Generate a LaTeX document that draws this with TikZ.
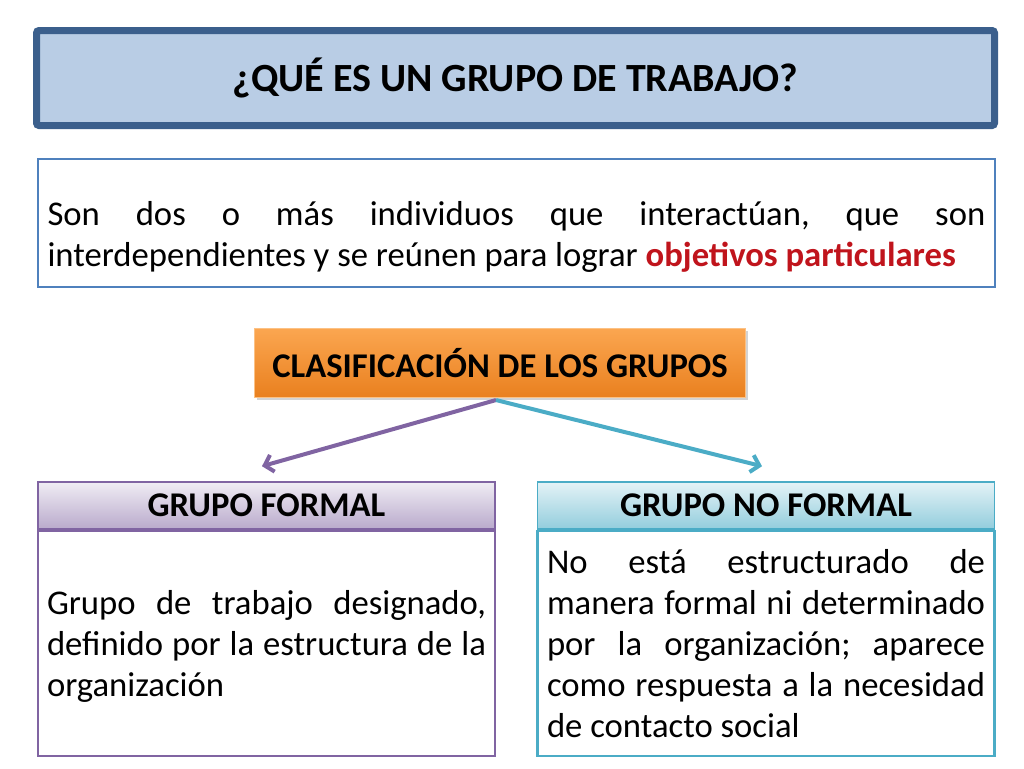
\documentclass[tikz,border=0pt]{standalone}
\usepackage{fontspec}
\setmainfont{Carlito}
\usetikzlibrary{positioning}
\usetikzlibrary{calc}
\usetikzlibrary{shadows}
\usetikzlibrary{arrows.meta}
\hyphenpenalty=10000
\exhyphenpenalty=10000
\frenchspacing
\definecolor{tituloazul}{HTML}{B9CDE5}
\definecolor{tituloborde}{HTML}{3B5F8C}
\definecolor{defborde}{HTML}{4F81BD}
\definecolor{rojoobj}{HTML}{C0141C}
\definecolor{morado}{HTML}{8064A2}
\definecolor{turquesa}{HTML}{4BACC6}
\definecolor{naranjaA}{HTML}{FBA650}
\definecolor{naranjaB}{HTML}{E9801F}
\tikzset{every picture/.style={x=0.75pt,y=-0.75pt},
  texto/.style={font=\fontsize{26}{30.75}\selectfont,align=justify},
  cabecera/.style={font=\fontsize{26}{30}\selectfont\bfseries,minimum width=342.75pt,minimum height=35.25pt,line width=1.2pt},
  cuerpo/.style={minimum width=342.75pt,minimum height=168.75pt,line width=1.8pt,fill=white},
  flecha/.style={line width=3pt,-{Straight Barb[length=6pt,width=13pt]}}}
\begin{document}
\begin{tikzpicture}
\useasboundingbox (0,0) rectangle (1024,768);
% titulo
\node (titulo) at (515.5,78) [minimum width=718.5pt,minimum height=71.25pt,rounded corners=0.4ex,draw=tituloborde,line width=5.25pt,fill=tituloazul,font=\fontsize{30}{36}\selectfont\bfseries] {¿QUÉ ES UN GRUPO DE TRABAJO?};
% definicion
\node (def) at (516.5,223) [minimum width=717.75pt,minimum height=96pt,draw=defborde,line width=1.8pt] {};
\node (deftxt) at (516.5,237) [texto,text width=703.5pt,inner sep=0pt] {Son dos o más individuos que interactúan, que son interdependientes y se reúnen para lograr \textcolor{rojoobj}{\bfseries objetivos particulares}};
% clasificacion
\node (clas) at (500,363) [minimum width=368.25pt,minimum height=51.75pt,top color=naranjaA,bottom color=naranjaB,draw=naranjaA!70!white,line width=0.8pt,drop shadow={shadow xshift=2pt,shadow yshift=-2pt,opacity=0.35},font=\fontsize{26}{30}\selectfont\bfseries] {CLASIFICACIÓN DE LOS GRUPOS};
% grupos
\node (formal) at (266.5,505.5) [cabecera,draw=morado,top color=morado!12,bottom color=morado!55] {GRUPO FORMAL};
\node (formalc) [below=0pt of formal,cuerpo,draw=morado] {};
\node (formalt) at (266.5,646) [texto,text width=329.25pt,inner sep=0pt] {Grupo de trabajo designado, definido por la estructura de la organización};
\node (noformal) at (766,505.5) [cabecera,draw=turquesa,top color=turquesa!15,bottom color=turquesa!60] {GRUPO NO FORMAL};
\node (noformalc) [below=0pt of noformal,cuerpo,draw=turquesa] {};
\node (noformalt) at (766,644) [texto,text width=328.5pt,inner sep=0pt] {No está estructurado de manera formal ni determinado por la organización; aparece como respuesta a la necesidad de contacto social};
% flechas
\draw[flecha,morado] ($(clas.south)+(-4,2)$) -- ($(formal.north)+(-4.5,-15)$);
\draw[flecha,turquesa] ($(clas.south)+(-4,2)$) -- ($(noformal.north)+(-4,-15)$);
\end{tikzpicture}
\end{document}
